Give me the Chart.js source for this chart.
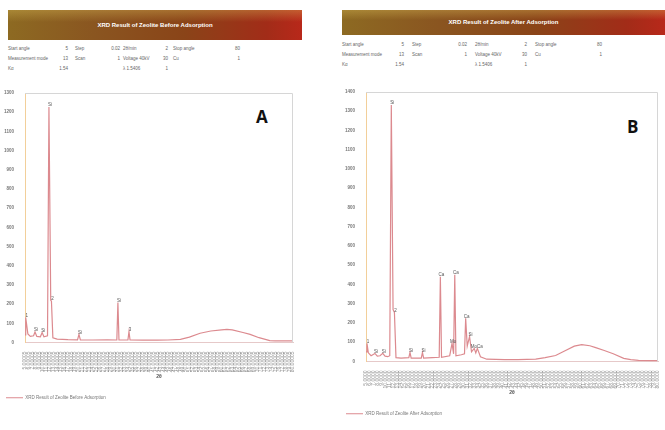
<!DOCTYPE html>
<html>
<head>
<meta charset="utf-8">
<script src="https://cdn.jsdelivr.net/npm/chart.js@4.4.1/dist/chart.umd.min.js"></script>
<style>
  html, body { margin: 0; padding: 0; background: #fff; }
  body { width: 665px; height: 430px; position: relative; overflow: hidden; font-family: "Liberation Sans", Arial, sans-serif; filter: blur(0.35px); }
  .bar { position: absolute; color: #fff; font-size: 6px; font-weight: bold; text-align: center;
    background: linear-gradient(90deg, #8d6a22 0%, #8a5520 30%, #8a4418 60%, #a22c18 88%, #b8281a 100%); }
  .bar::before { content: ""; position: absolute; left: 0; right: 0; top: 0; height: 40%;
    background: linear-gradient(180deg, rgba(220,190,90,0.35), rgba(220,190,90,0)); }
  .bar span { position: relative; }
  .meta { position: absolute; font-size: 4.5px; color: #666; white-space: nowrap; }
  .big { position: absolute; font-family: "Open Sans", "DejaVu Sans", sans-serif; font-weight: bold; font-size: 17px; color: #111; }
  canvas { position: absolute; }
</style>
</head>
<body>
<div class="bar" id="barA" style="left:8px; top:10px; width:294px; height:30px; line-height:30px;"><span>XRD Result of Zeolite Before Adsorption</span></div>
<div class="bar" id="barB" style="left:342px; top:10px; width:323px; height:25px; line-height:25px;"><span>XRD Result of Zeolite After Adsorption</span></div>
<div id="metaA"></div>
<div id="metaB"></div>
<div class="big" style="left:256px; top:105px;">A</div>
<div class="big" style="left:627px; top:115px;">B</div>
<canvas id="chartA" width="300" height="329" style="left:0px; top:85px;"></canvas>
<canvas id="chartB" width="325" height="345" style="left:340px; top:85px;"></canvas>
<script>
// 2θ positions and intensities
const thetaA = [5, 5.2, 5.8, 6.5, 7.4, 7.8, 8.3, 9.3, 9.8, 10.3, 11.3, 11.7, 12.2, 12.4, 12.8, 14, 17, 19.7, 20.1, 20.5, 24, 28, 30.7, 31.0, 31.3, 33.8, 34.1, 34.4, 38, 42, 45, 48.5, 51, 54, 57, 60, 61.5, 63, 66, 68, 70.5, 73.5, 75, 78, 80];
const intensityA = [40, 130, 45, 32, 35, 55, 32, 30, 52, 30, 35, 1227, 220, 215, 25, 18, 15, 14, 42, 14, 13, 14, 13, 208, 13, 13, 57, 13, 12, 12, 13, 16, 28, 48, 60, 66, 68, 66, 52, 42, 25, 10, 8, 8, 8];

const thetaB = [5, 5.25, 5.6, 6.3, 7.3, 7.9, 8.6, 9.3, 9.9, 10.6, 11.1, 11.5, 11.95, 12.3, 12.7, 14, 16, 16.3, 16.6, 19.2, 19.5, 19.8, 22, 23.8, 24.1, 24.4, 26.5, 27.1, 27.5, 27.8, 28.1, 29.5, 30.3, 30.6, 31.0, 31.6, 32.1, 32.8, 33.2, 33.6, 34.4, 36, 40.6, 44, 48.6, 51, 53.7, 56, 58.5, 60.4, 62.5, 64, 66.2, 68.5, 71.2, 73, 75, 78, 80];
const intensityB = [50, 94, 45, 30, 42, 28, 30, 42, 28, 25, 30, 1332, 270, 255, 20, 18, 20, 47, 18, 18, 47, 18, 20, 22, 440, 22, 30, 94, 40, 450, 30, 35, 40, 224, 80, 130, 50, 68, 45, 68, 25, 12, 10, 10, 12, 20, 31, 55, 80, 88, 82, 72, 57, 40, 16, 10, 6, 5, 5];

// peak annotations
const peakThetaA = [5.2, 7.8, 9.8, 11.7, 12.4, 20.1, 31.0, 34.1];
const peakValueA = [130, 55, 52, 1227, 215, 42, 208, 57];
const peakTextA = ['1', 'Si', 'Si', 'Si', '2', 'Si', 'Si', '3'];

const peakThetaB = [5.25, 7.3, 9.3, 11.5, 12.3, 16.3, 19.5, 24.1, 27.1, 27.8, 30.6, 31.6, 33.2];
const peakValueB = [94, 42, 42, 1332, 255, 47, 47, 440, 94, 450, 224, 130, 68];
const peakTextB = ['1', 'Si', 'Si', 'Si', '2', 'Si', 'Si', 'Ca', 'Mo', 'Ca', 'Ca', 'Si', 'MoCa'];

const yMaxA = 1300;
const yMaxB = 1400;
const legendA = 'XRD Result of Zeolite Before Adsorption';
const legendB = 'XRD Result of Zeolite After Adsorption';

const metaRowsA = [
  ['Start angle', '5', 'Step', '0.02', '2θ/min', '2', 'Stop angle', '80'],
  ['Measurement mode', '13', 'Scan', '1', 'Voltage 40kV', '30', 'Cu', '1'],
  ['Kα', '1.54', '', '', 'λ 1.5406', '1', '', '']
];
const metaRowsB = [
  ['Start angle', '5', 'Step', '0.02', '2θ/min', '2', 'Stop angle', '80'],
  ['Measurement mode', '13', 'Scan', '1', 'Voltage 40kV', '30', 'Cu', '1'],
  ['Kα', '1.54', '', '', 'λ 1.5406', '1', '', '']
];

function buildMeta(id, rows, left, top, cols) {
  const box = document.getElementById(id);
  rows.forEach((row, r) => {
    row.forEach((txt, c) => {
      if (!txt) return;
      const s = document.createElement('div');
      s.className = 'meta';
      s.textContent = txt;
      s.style.top = (top + r * 10) + 'px';
      if (c % 2 === 1) {
        s.style.left = (left + cols[c] - 20) + 'px';
        s.style.width = '20px';
        s.style.textAlign = 'right';
      } else {
        s.style.left = (left + cols[c]) + 'px';
      }
      box.appendChild(s);
    });
  });
}
buildMeta('metaA', metaRowsA, 8, 46, [0, 60, 67, 112, 115, 160, 165, 232]);
buildMeta('metaB', metaRowsB, 342, 42, [0, 62, 70, 125, 133, 185, 193, 260]);

const frame = {
  id: 'frame',
  afterDraw(chart) {
    const a = chart.chartArea, c = chart.ctx;
    c.save();
    c.strokeStyle = '#d6d6d6';
    c.lineWidth = 1;
    c.beginPath();
    c.moveTo(a.left, a.top + 0.5);
    c.lineTo(a.right - 0.5, a.top + 0.5);
    c.lineTo(a.right - 0.5, a.bottom);
    c.stroke();
    // peak labels
    const o = chart.options.plugins.frame;
    c.fillStyle = '#555';
    c.font = '4.5px "Liberation Sans", sans-serif';
    c.textAlign = 'center';
    o.xs.forEach((x, i) => {
      const px = chart.scales.x.getPixelForValue(x);
      const py = chart.scales.y.getPixelForValue(o.ys[i]);
      c.fillText(o.texts[i], px + 1, py - 2);
    });
    c.restore();
  }
};

function makeChart(id, xs, ys, yMax, label, pad, yWidth, xHeight, titleGap, tail, peaks) {
  return new Chart(document.getElementById(id), {
    type: 'line',
    data: {
      datasets: [{
        label: label,
        data: xs.map((x, i) => ({ x: x, y: ys[i] })),
        borderColor: '#dc8a8f',
        borderWidth: 1.2,
        pointRadius: 0,
        tension: 0,
        fill: false
      }]
    },
    options: {
      responsive: false,
      animation: false,
      layout: { padding: pad },
      plugins: {
        tooltip: { enabled: false },
        legend: {
          position: 'bottom',
          align: 'start',
          labels: {
            usePointStyle: true,
            pointStyle: 'line',
            pointStyleWidth: 17,
            boxHeight: 4,
            padding: 6,
            color: '#777',
            font: { size: 4.5 }
          }
        },
        frame: peaks
      },
      scales: {
        x: {
          type: 'linear',
          min: 5,
          max: 80,
          grid: { display: false },
          border: { color: '#e6c9c9' },
          ticks: {
            stepSize: 1,
            autoSkip: false,
            maxRotation: 90,
            minRotation: 90,
            color: '#8f8f8f',
            padding: 1,
            font: { size: 5 },
            callback: v => v.toFixed(4) + tail
          },
          title: { display: true, text: '2θ', color: '#555', font: { size: 5, weight: 'bold' }, padding: { top: 1, bottom: titleGap } },
          afterFit: s => { s.height = xHeight; }
        },
        y: {
          min: 0,
          max: yMax,
          grid: { display: false },
          border: { color: '#f2cf9a' },
          ticks: { stepSize: 100, color: '#777', font: { size: 4.5, weight: 'bold' }, padding: 3, callback: v => String(v) },
          afterFit: s => { s.width = yWidth; }
        }
      }
    },
    plugins: [frame]
  });
}

makeChart('chartA', thetaA, intensityA, yMaxA, legendA, { top: 8, right: 3, left: 0, bottom: 4 }, 25, 47, 10, '5',
  { xs: peakThetaA, ys: peakValueA, texts: peakTextA });
makeChart('chartB', thetaB, intensityB, yMaxB, legendB, { top: 7, right: 0, left: 0, bottom: 4 }, 26, 44, 10, '',
  { xs: peakThetaB, ys: peakValueB, texts: peakTextB });
</script>
</body>
</html>
